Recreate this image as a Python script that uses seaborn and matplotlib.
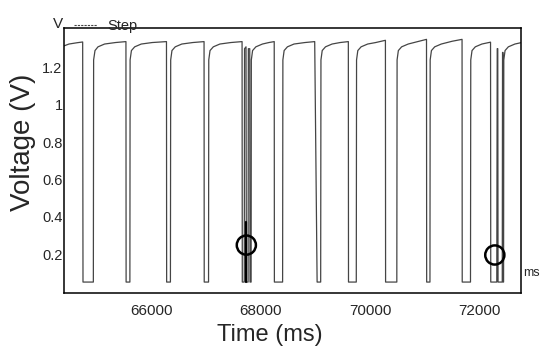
import matplotlib
matplotlib.use("Agg")
import matplotlib.pyplot as plt
from matplotlib.lines import Line2D
import numpy as np
import pandas as pd
import seaborn as sns

sns.set_style("white")
plt.rcParams["font.family"] = ["Liberation Sans", "DejaVu Sans"]

# step waveform (time in ms, voltage in V)
step_t = [
    64409, 64500, 64650, 64750, 64756, 64945,
    64950, 64975, 65030, 65150, 65350, 65540, 65543, 65612,
    65616, 65640, 65700, 65820, 66020, 66280, 66283, 66352,
    66357, 66380, 66440, 66560, 66760, 66966, 66969, 67048,
    67052, 67075, 67135, 67255, 67455, 67660, 67664, 67700,
    67705, 67732, 67738, 67770, 67775, 67800, 67805, 67825,
    67829, 67852, 67912, 68032, 68150, 68247, 68250, 68400,
    68405, 68428, 68488, 68608, 68808, 68986, 69030, 69095,
    69100, 69123, 69183, 69303, 69450, 69600, 69603, 69745,
    69750, 69773, 69833, 69953, 70100, 70277, 70280, 70485,
    70490, 70513, 70573, 70693, 70893, 71027, 71030, 71090,
    71094, 71117, 71177, 71297, 71497, 71676, 71679, 71830,
    71835, 71858, 71918, 72038, 72196, 72200, 72310,
    72318, 72328, 72333, 72410, 72415, 72424, 72428, 72434,
    72438, 72461, 72521, 72641, 72749,
]
step_v = [
    1.315, 1.325, 1.332, 1.336, 0.05, 0.05,
    1.24, 1.29, 1.31, 1.325, 1.333, 1.338, 0.05, 0.05,
    1.24, 1.29, 1.31, 1.325, 1.333, 1.338, 0.05, 0.05,
    1.24, 1.29, 1.31, 1.325, 1.333, 1.338, 0.05, 0.05,
    1.24, 1.29, 1.31, 1.325, 1.333, 1.338, 0.05, 0.05,
    1.30, 1.31, 0.05, 0.05, 1.30, 1.30, 0.05, 0.05,
    1.24, 1.29, 1.31, 1.325, 1.333, 1.338, 0.05, 0.05,
    1.24, 1.29, 1.31, 1.325, 1.333, 1.338, 0.05, 0.05,
    1.24, 1.29, 1.31, 1.325, 1.333, 1.338, 0.05, 0.05,
    1.24, 1.29, 1.31, 1.325, 1.333, 1.345, 0.05, 0.05,
    1.24, 1.29, 1.31, 1.325, 1.340, 1.350, 0.05, 0.05,
    1.24, 1.29, 1.31, 1.325, 1.340, 1.350, 0.05, 0.05,
    1.24, 1.29, 1.31, 1.325, 1.335, 0.05, 0.05,
    1.30, 1.30, 0.05, 0.05, 1.28, 1.28, 0.05, 0.05,
    1.24, 1.29, 1.31, 1.325, 1.332,
]

# heavy spike under the first circled glitch
spike_t = [67738, 67738]
spike_v = [0.37, 0.05]

# circled glitches
circle_t = [67738, 72274]
circle_v = [0.248, 0.195]

x_ticks = [66000, 68000, 70000, 72000]
y_ticks = [0.2, 0.4, 0.6, 0.8, 1.0, 1.2]
y_tick_labels = ["0.2", "0.4", "0.6", "0.8", "1", "1.2"]

df = pd.DataFrame({"t": step_t, "v": step_v})

fig = plt.figure(figsize=(5.4, 3.52), dpi=100)
ax = fig.add_axes([0.1185, 0.169, 0.846, 0.751])

sns.lineplot(data=df, x="t", y="v", sort=False, estimator=None,
             color="#454545", linewidth=0.9, ax=ax)
ax.plot(spike_t, spike_v, color="black", linewidth=1.6)
ax.scatter(circle_t, circle_v, s=190, facecolors="none",
           edgecolors="black", linewidths=1.8, zorder=5)

ax.set_xlim(64409, 72749)
ax.set_ylim(-0.006, 1.41)
ax.set_xticks(x_ticks)
ax.set_xticklabels([str(t) for t in x_ticks], fontsize=11)
ax.set_yticks(y_ticks)
ax.set_yticklabels(y_tick_labels, fontsize=10.5)
ax.tick_params(axis="x", direction="out", length=3, width=0.8, pad=5)
ax.tick_params(axis="y", direction="in", length=3, width=0.8, pad=1)

for sp in ax.spines.values():
    sp.set_color("black")
    sp.set_linewidth(1.1)

ax.set_xlabel("Time (ms)", fontsize=17)
ax.set_ylabel("Voltage (V)", fontsize=20)
ax.xaxis.set_label_coords(0.45, -0.118)
ax.yaxis.set_label_coords(-0.062, 0.57)

# units and legend in the margins
ax.text(-0.002, 0.99, "V", transform=ax.transAxes, fontsize=11,
        ha="right", va="bottom")
ax.text(1.004, 0.072, "ms", transform=ax.transAxes, fontsize=9,
        ha="left", va="center")
handle = Line2D([], [], color="#454545", linestyle=(0, (2, 1)), linewidth=0.8)
ax.legend([handle], ["Step"], loc="lower left", bbox_to_anchor=(0.018, 0.975),
          frameon=False, fontsize=10.5, handlelength=1.6, handletextpad=0.7,
          borderaxespad=0.0, borderpad=0.1)

fig.savefig("out.png", dpi=100)
plt.close(fig)
